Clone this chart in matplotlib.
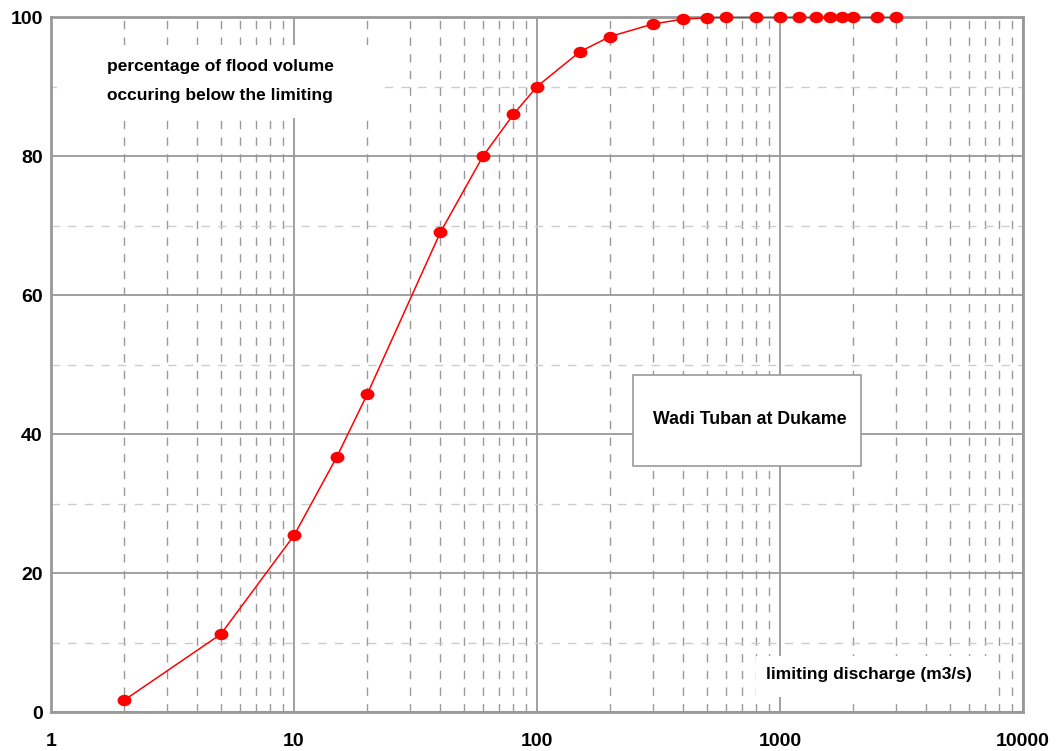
import numpy as np
import matplotlib
matplotlib.use("Agg")
import matplotlib.pyplot as plt
from matplotlib.ticker import FixedLocator, NullFormatter
from matplotlib.path import Path
from matplotlib.patches import Rectangle

plt.rcParams['font.family'] = ['Liberation Sans', 'DejaVu Sans']

# ── Data ─────────────────────────────────────────────────────────────────────
discharge = [2, 5, 10, 15, 20, 40, 60, 80, 100, 150, 200, 300, 400, 500,
             600, 800, 1000, 1200, 1400, 1600, 1800, 2000, 2500, 3000]
pct_volume = [1.7, 11.2, 25.4, 36.7, 45.7, 69.0, 80.0, 86.0, 90.0, 95.0, 97.2,
              99.0, 99.7, 99.9, 100, 100, 100, 100, 100, 100, 100, 100, 100, 100]

x_ticks = [1, 10, 100, 1000, 10000]
x_ticklabels = ['1', '10', '100', '1000', '10000']
y_ticks = [0, 20, 40, 60, 80, 100]

# ── Figure ───────────────────────────────────────────────────────────────────
fig = plt.figure(figsize=(10.6, 7.51), dpi=100)
ax = fig.add_axes([0.0481, 0.0519, 0.917, 0.9254])

ax.set_xscale('log')
ax.set_xlim(1, 10000)
ax.set_ylim(0, 100)

grey = '#999999'
minor_x = [m * 10 ** d for d in range(4) for m in range(2, 10)]
ax.xaxis.set_major_locator(FixedLocator(x_ticks))
ax.xaxis.set_minor_locator(FixedLocator(minor_x))
ax.xaxis.set_minor_formatter(NullFormatter())
ax.set_xticks(x_ticks)
ax.set_xticklabels(x_ticklabels)
ax.yaxis.set_major_locator(FixedLocator(y_ticks))
ax.yaxis.set_minor_locator(FixedLocator([10, 30, 50, 70, 90]))

ax.grid(which='major', axis='both', color=grey, lw=1.3, ls='-', zorder=0)
ax.grid(which='minor', axis='x', color=grey, lw=1.0, ls=(0, (6, 6)), zorder=0)
ax.grid(which='minor', axis='y', color='#cccccc', lw=1.0, ls=(0, (6, 6)), zorder=0)

ax.tick_params(which='both', length=0)
ax.tick_params(axis='x', pad=15, labelsize=14)
ax.tick_params(axis='y', pad=6, labelsize=14)
for lab in ax.get_xticklabels() + ax.get_yticklabels():
    lab.set_fontweight('bold')

for s in ax.spines.values():
    s.set_color(grey)
    s.set_linewidth(2)

# slightly flattened dot, like the original marker
circ = Path.unit_circle()
ellipse = Path(circ.vertices * np.array([1.0, 0.8]), circ.codes)

ax.plot(discharge, pct_volume, '-', color='#ff0000', lw=1.1, zorder=4)
ax.plot(discharge, pct_volume, ls='none', marker=ellipse, color='#ff0000',
        ms=9, mec='#ff0000', zorder=5, clip_on=False)

# text boxes
ax.add_patch(Rectangle((0.006, 0.855), 0.335, 0.105, transform=ax.transAxes,
                       fc='white', ec='none', zorder=2))
ax.text(0.174, 0.908, 'percentage of flood volume\noccuring below the limiting',
        transform=ax.transAxes, ha='center', va='center', fontsize=12.5,
        fontweight='bold', linespacing=2.15, zorder=3)

ax.add_patch(Rectangle((0.599, 0.354), 0.2346, 0.131, transform=ax.transAxes,
                       fc='white', ec=grey, lw=1.2, zorder=2))
ax.text(0.7186, 0.4216, 'Wadi Tuban at Dukame', transform=ax.transAxes,
        ha='center', va='center', fontsize=12.8, fontweight='bold', zorder=3)

ax.add_patch(Rectangle((0.725, 0.022), 0.24, 0.058, transform=ax.transAxes,
                       fc='white', ec='none', zorder=2))
ax.text(0.8416, 0.0547, 'limiting discharge (m3/s)', transform=ax.transAxes,
        ha='center', va='center', fontsize=12.5, fontweight='bold', zorder=3)

fig.savefig('out.png', dpi=100)
